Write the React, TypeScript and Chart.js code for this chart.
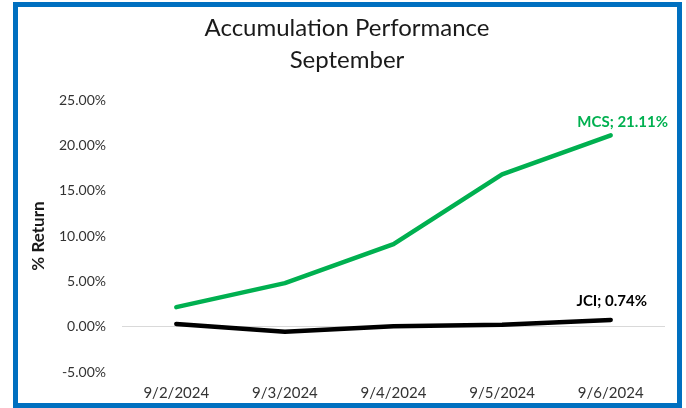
import React, { useEffect, useRef } from "react";
import { Chart, registerables } from "chart.js";

Chart.register(...registerables);

const titleLines = ["Accumulation Performance", "September"];
const categories = ["9/2/2024", "9/3/2024", "9/4/2024", "9/5/2024", "9/6/2024"];
const mcsValues = [2.15, 4.8, 9.1, 16.8, 21.11];
const jciValues = [0.3, -0.55, 0.05, 0.2, 0.74];
const seriesNames = ["MCS", "JCI"];
const yTitle = "% Return";
const yMin = -5;
const yMax = 25;
const yStep = 5;

const GREEN = "#00B050";
const BLACK = "#000000";
const BLUE = "#0070C0";
const FONT = "Lato, 'Open Sans', sans-serif";

const framePlugin = {
  id: "frame",
  beforeDraw(chart: any) {
    const ctx = chart.ctx;
    ctx.save();
    ctx.fillStyle = "#ffffff";
    ctx.fillRect(0, 0, chart.width, chart.height);
    ctx.strokeStyle = BLUE;
    ctx.lineWidth = 5;
    ctx.strokeRect(15.5, 4.5, 664, 401);
    ctx.fillStyle = "#1a1a1a";
    ctx.font = `24px ${FONT}`;
    ctx.textAlign = "center";
    ctx.textBaseline = "middle";
    const cx = 347;
    titleLines.forEach((t, i) => ctx.fillText(t, cx, 28 + i * 32));
    ctx.restore();
  },
};

const labelOffsets = [
  { dx: 12, dy: -13 },
  { dx: 1, dy: -19 },
];

const endLabelPlugin = {
  id: "endLabels",
  afterDatasetsDraw(chart: any) {
    const ctx = chart.ctx;
    ctx.save();
    ctx.font = `bold 15px ${FONT}`;
    ctx.textAlign = "center";
    ctx.textBaseline = "middle";
    chart.data.datasets.forEach((ds: any, i: number) => {
      const meta = chart.getDatasetMeta(i);
      const last = meta.data[meta.data.length - 1];
      const v = ds.data[ds.data.length - 1];
      ctx.fillStyle = ds.borderColor;
      const off = labelOffsets[i];
      ctx.fillText(`${ds.label}; ${v.toFixed(2)}%`, last.x + off.dx, last.y + off.dy);
    });
    ctx.restore();
  },
};

export default function App() {
  const ref = useRef<HTMLCanvasElement>(null);
  useEffect(() => {
    document.body.style.margin = "0";
    const chart = new Chart(ref.current as HTMLCanvasElement, {
      type: "line",
      data: {
        labels: categories,
        datasets: [
          {
            label: seriesNames[0],
            data: mcsValues,
            borderColor: GREEN,
            backgroundColor: GREEN,
            borderWidth: 4.5,
            pointRadius: 0,
            tension: 0,
            borderCapStyle: "round",
            borderJoinStyle: "round",
          },
          {
            label: seriesNames[1],
            data: jciValues,
            borderColor: BLACK,
            backgroundColor: BLACK,
            borderWidth: 4.5,
            pointRadius: 0,
            tension: 0,
            borderCapStyle: "round",
            borderJoinStyle: "round",
          },
        ],
      },
      options: {
        animation: false,
        responsive: false,
        maintainAspectRatio: false,
        layout: { padding: { left: 20, right: 21, top: 100, bottom: 0 } },
        plugins: {
          legend: { display: false },
          title: { display: false },
          tooltip: { enabled: false },
        },
        scales: {
          x: {
            offset: true,
            grid: { display: false, drawTicks: false },
            border: { display: false },
            ticks: {
              color: "#333",
              font: { family: FONT, size: 15 },
              padding: 12,
              maxRotation: 0,
            },
            afterFit(scale: any) {
              scale.height = 36;
            },
          },
          y: {
            min: yMin,
            max: yMax,
            grid: {
              drawTicks: false,
              color: (c: any) => (c.tick && c.tick.value === 0 ? "#d9d9d9" : "rgba(0,0,0,0)"),
              lineWidth: 1,
            },
            border: { display: false },
            ticks: {
              stepSize: yStep,
              color: "#333",
              font: { family: FONT, size: 14 },
              padding: 16,
              callback: (v: any) => `${Number(v).toFixed(2)}%`,
            },
            title: {
              display: true,
              text: yTitle,
              color: "#1a1a1a",
              font: { family: FONT, size: 17, weight: "bold" },
              padding: { top: 8, bottom: 0 },
            },
            afterFit(scale: any) {
              scale.width = 102;
            },
          },
        },
      },
      plugins: [framePlugin, endLabelPlugin],
    });
    return () => chart.destroy();
  }, []);
  return (
    <div style={{ position: "absolute", left: 0, top: 0, width: 686, height: 408 }}>
      <canvas ref={ref} width={686} height={408} style={{ display: "block" }} />
    </div>
  );
}
